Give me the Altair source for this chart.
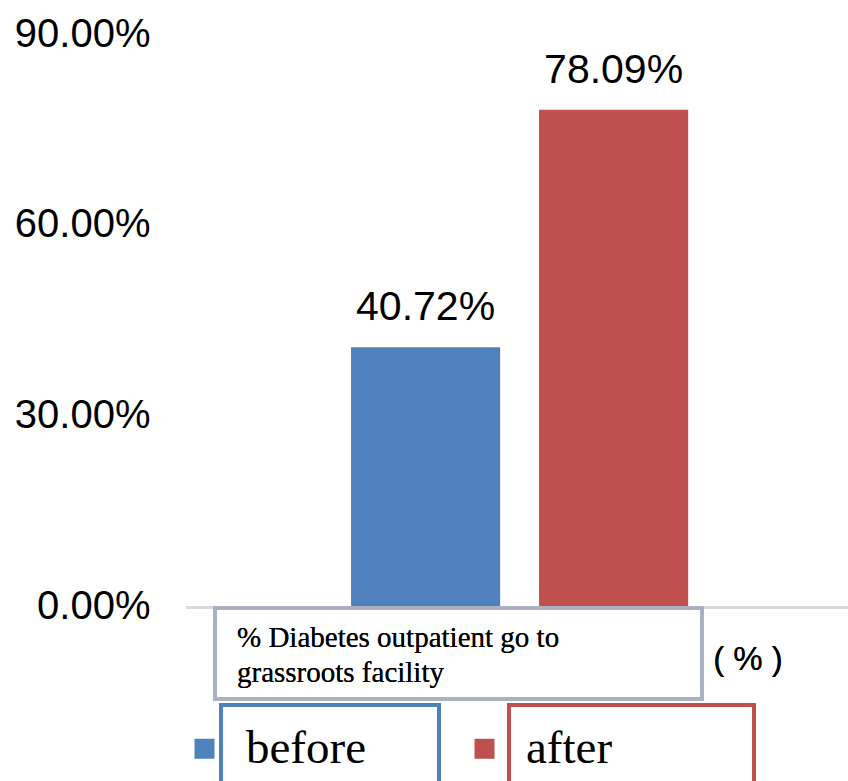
import altair as alt
import pandas as pd

# Share of diabetes outpatients visiting grassroots facilities
periods = ["before", "after"]
shares = [40.72, 78.09]
bar_colors = ["#4f81bd", "#c0504d"]
y_ticks = [0, 30, 60, 90]
caption_lines = ["% Diabetes outpatient go to", "grassroots facility"]
unit_label = "( % )"

df = pd.DataFrame({"period": periods, "share": shares})

SANS = "Liberation Sans"
SERIF = "Liberation Serif"

base = alt.Chart(df)

x_enc = alt.X(
    "period:N",
    sort=periods,
    axis=None,
    scale=alt.Scale(paddingInner=0.207, paddingOuter=0.864, align=0.508),
)
y_scale = alt.Scale(domain=[0, 90], nice=False, zero=True)

bars = base.mark_bar().encode(
    x=x_enc,
    y=alt.Y(
        "share:Q",
        scale=y_scale,
        axis=alt.Axis(
            values=y_ticks,
            labelExpr="format(datum.value, '.2f') + '%'",
            labelFont=SANS,
            labelFontSize=40,
            labelColor="#000000",
            labelPadding=36,
            domain=False,
            ticks=False,
            grid=False,
            title=None,
        ),
    ),
    color=alt.Color(
        "period:N",
        sort=periods,
        scale=alt.Scale(domain=periods, range=bar_colors),
        legend=alt.Legend(
            title=None,
            orient="none",
            direction="horizontal",
            legendX=-5,
            legendY=691,
            symbolType="square",
            symbolSize=400,
            symbolStrokeWidth=0,
            symbolOpacity=1,
            labelFont=SERIF,
            labelFontSize=47,
            labelColor="#000000",
            labelOffset=18,
            columnPadding=94,
            labelLimit=300,
        ),
    ),
)

value_labels = base.transform_calculate(
    label="format(datum.share, '.2f') + '%'"
).mark_text(
    font=SANS, fontSize=41, color="#000000", dy=-27, baseline="alphabetic"
).encode(x=x_enc, y=alt.Y("share:Q", scale=y_scale), text="label:N")

# Light baseline along zero
baseline = base.mark_rule(color="#d9d9d9", strokeWidth=3, yOffset=1.5).encode(
    y=alt.datum(0), x=alt.value(0), x2=alt.value(662)
)

# Caption box under the bars
caption_box = base.mark_rect(
    fillOpacity=0, stroke="#aab1c1", strokeWidth=4
).encode(x=alt.value(29), x2=alt.value(516), y=alt.value(574), y2=alt.value(665))

caption_text = base.mark_text(
    font=SERIF, fontSize=29, color="#000000", align="left",
    baseline="alphabetic", lineHeight=35,
).encode(x=alt.value(51), y=alt.value(613), text=alt.value(caption_lines))

unit_text = base.mark_text(
    font=SANS, fontSize=33, color="#000000", align="center", baseline="middle"
).encode(x=alt.value(562), y=alt.value(626), text=alt.value(unit_label))

# Outlines around the legend labels
before_box = base.mark_rect(
    fillOpacity=0, stroke="#4f81bd", strokeWidth=4
).encode(x=alt.value(35), x2=alt.value(253), y=alt.value(671), y2=alt.value(760))

after_box = base.mark_rect(
    fillOpacity=0, stroke="#c0504d", strokeWidth=4
).encode(x=alt.value(323), x2=alt.value(568), y=alt.value(671), y2=alt.value(760))

chart = alt.layer(
    bars, baseline, value_labels, caption_box, caption_text, unit_text,
    before_box, after_box,
).properties(
    width=662,
    height=572,
    padding={"left": 186, "top": 34, "right": 0, "bottom": 175},
    autosize=alt.AutoSizeParams(type="none"),
    background="#ffffff",
).configure_view(stroke=None)

chart.save("out.html", embed_options={"renderer": "svg", "actions": False})
